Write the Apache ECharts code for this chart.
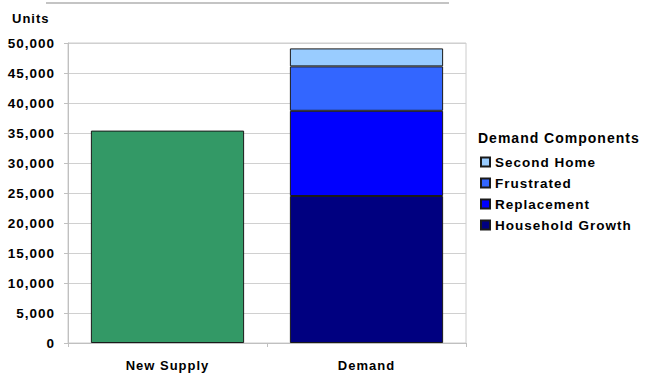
<!DOCTYPE html>
<html>
<head>
<meta charset="utf-8">
<script src="https://cdn.jsdelivr.net/npm/echarts@6/dist/echarts.min.js"></script>
<style>
  html, body { margin: 0; padding: 0; background: #fff; }
  #chart { width: 647px; height: 373px; letter-spacing: 1px; }
</style>
</head>
<body>
<div id="chart"></div>
<script>
const categories = ["New Supply", "Demand"];
const newSupply = [35400, "-"];
const householdGrowth = ["-", 24500];
const replacement = ["-", 14200];
const frustrated = ["-", 7400];
const secondHome = ["-", 3000];
const legendNames = ["Second Home", "Frustrated", "Replacement", "Household Growth"];

const font = "Liberation Sans, Arial, sans-serif";
// svg renderer so the css letter-spacing reaches the text (reference is loosely tracked)
const chart = echarts.init(document.getElementById("chart"), null, { renderer: "svg" });

const barStyle = (color) => ({ color: color, borderColor: "#1a1a1a", borderWidth: 1 });

const option = {
  animation: false,
  textStyle: { fontFamily: font },
  grid: {
    left: 68, right: 181, top: 43, bottom: 30,
    show: true, borderColor: "#cccccc", borderWidth: 1
  },
  graphic: [
    { type: "line", shape: { x1: 46, y1: 3, x2: 449, y2: 3 },
      style: { stroke: "#c4c4c4", lineWidth: 2 } },
    { type: "text", left: 12, top: 12,
      style: { text: "Units", font: "bold 13px " + font, fill: "#000" } },
    { type: "text", left: 478, top: 131,
      style: { text: "Demand Components", font: "bold 14px " + font, fill: "#000" } }
  ],
  legend: {
    orient: "vertical",
    left: 475, top: 150,
    data: legendNames,
    itemWidth: 9, itemHeight: 9, itemGap: 7,
    icon: "rect",
    textStyle: { fontFamily: font, fontWeight: "bold", fontSize: 13.5, color: "#000", lineHeight: 13, padding: [0, 0, 0, 0] }
  },
  xAxis: {
    type: "category",
    data: categories,
    axisLine: { lineStyle: { color: "#c0c0c0", width: 1 } },
    axisTick: { show: true, length: 4, lineStyle: { color: "#c0c0c0" } },
    axisLabel: { fontFamily: font, fontWeight: "bold", fontSize: 13, color: "#000", margin: 16 }
  },
  yAxis: {
    type: "value",
    min: 0, max: 50000, interval: 5000,
    axisLine: { show: true, lineStyle: { color: "#c0c0c0", width: 1 } },
    axisTick: { show: true, length: 4, lineStyle: { color: "#c0c0c0" } },
    splitLine: { lineStyle: { color: "#d0d0d0", width: 1 } },
    axisLabel: {
      fontFamily: font, fontWeight: "bold", fontSize: 13.5, color: "#000", margin: 13,
      formatter: (v) => v.toLocaleString("en-US")
    }
  },
  series: [
    { name: "New Supply", type: "bar", stack: "total", barCategoryGap: "23%", data: newSupply, itemStyle: barStyle("#339966") },
    { name: "Household Growth", type: "bar", stack: "total", data: householdGrowth, itemStyle: barStyle("#000080") },
    { name: "Replacement", type: "bar", stack: "total", data: replacement, itemStyle: barStyle("#0000ff") },
    { name: "Frustrated", type: "bar", stack: "total", data: frustrated, itemStyle: barStyle("#3366ff") },
    { name: "Second Home", type: "bar", stack: "total", data: secondHome, itemStyle: barStyle("#99ccff") }
  ]
};

chart.setOption(option);
</script>
</body>
</html>
